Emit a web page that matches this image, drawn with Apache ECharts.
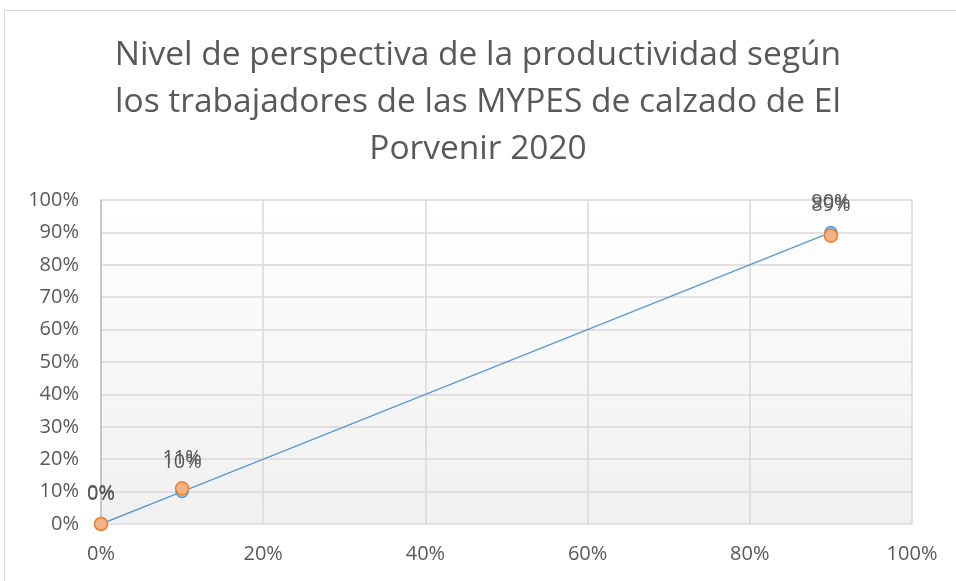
<!DOCTYPE html>
<html><head><meta charset="utf-8">
<script src="https://cdn.jsdelivr.net/npm/echarts@6/dist/echarts.min.js"></script>
<style>html,body{margin:0;padding:0;background:#fff}#c{width:956px;height:581px}</style>
</head><body><div id="c"></div>
<script>
const titleText = "Nivel de perspectiva de la productividad según\nlos trabajadores de las MYPES de calzado de El\nPorvenir 2020";
const xTicks = [0, 20, 40, 60, 80, 100];
const yTicks = [0, 10, 20, 30, 40, 50, 60, 70, 80, 90, 100];
const seriesA_x = [0, 10, 90];
const seriesA_y = [0, 10, 90];
const seriesB_x = [0, 10, 90];
const seriesB_y = [0, 11, 89];

const chart = echarts.init(document.getElementById('c'));
const font = "'Open Sans', 'Liberation Sans', sans-serif";
const lbl = {show:true, position:'top', distance:13, color:'#595959', fontSize:20, fontFamily:font, formatter:p=>p.value[1]+'%'};
chart.setOption({
  animation:false,
  graphic:[{type:'rect', shape:{x:4.5,y:10.5,width:960,height:600}, style:{fill:'none', stroke:'#d9d9d9', lineWidth:1}},
           {type:'rect', z:-1, shape:{x:101,y:200,width:811,height:324}, style:{fill:new echarts.graphic.LinearGradient(0,0,0,1,[{offset:0,color:'#ffffff'},{offset:1,color:'#f0f0f0'}])}}],
  title:{text:titleText, left:'center', top:27, textStyle:{color:'#595959', fontSize:33.5, fontWeight:'normal', fontFamily:font, lineHeight:47}},
  grid:{left:101, right:44, top:200, bottom:57, containLabel:false, show:false},
  xAxis:{type:'value', min:0, max:100, interval:20,
    axisLine:{show:false}, axisTick:{show:false},
    axisLabel:{formatter:v=>v+'%', color:'#595959', fontSize:20, fontFamily:font, margin:20},
    splitLine:{show:true, lineStyle:{color:'#d9d9d9', width:1.5}}},
  yAxis:{type:'value', min:0, max:100, interval:10,
    axisLine:{show:true, lineStyle:{color:'#bfbfbf', width:1.5}}, axisTick:{show:false},
    axisLabel:{formatter:v=>v+'%', color:'#595959', fontSize:20, fontFamily:font, margin:22},
    splitLine:{show:true, lineStyle:{color:'#d9d9d9', width:1.5}}},
  series:[
    {type:'line', data:seriesA_x.map((x,i)=>[x,seriesA_y[i]]), symbol:'circle', symbolSize:12,
     lineStyle:{color:'#5b9bd5', width:1.5}, itemStyle:{color:'#9dc3e6', borderColor:'#5b9bd5', borderWidth:1.5}, label:lbl, z:2},
    {type:'scatter', data:seriesB_x.map((x,i)=>[x,seriesB_y[i]]), symbol:'circle', symbolSize:13,
     itemStyle:{color:'#f4b183', borderColor:'#ed7d31', borderWidth:1.5, opacity:1}, label:lbl, z:3}
  ]
});
</script></body></html>
